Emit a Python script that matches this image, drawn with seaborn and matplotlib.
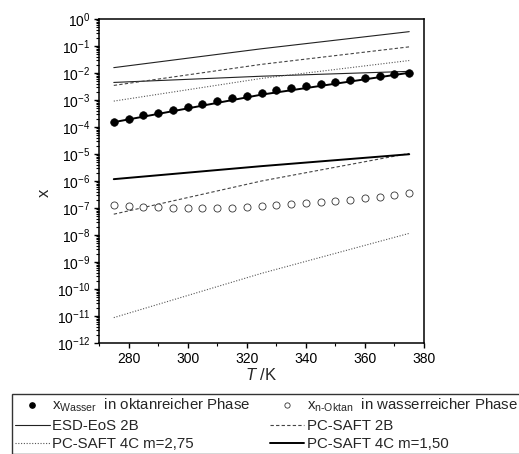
import matplotlib
matplotlib.use("Agg")
import matplotlib.pyplot as plt
from matplotlib.lines import Line2D
from matplotlib.ticker import LogLocator, NullFormatter, MultipleLocator
import seaborn as sns
import pandas as pd

# Experimental solubilities (mole fractions)
T_exp = [275, 280, 285, 290, 295, 300, 305, 310, 315, 320, 325,
         330, 335, 340, 345, 350, 355, 360, 365, 370, 375]
x_wasser = [1.48e-4, 2.00e-4, 2.69e-4, 3.39e-4, 4.37e-4, 5.62e-4, 7.24e-4,
            9.12e-4, 1.17e-3, 1.45e-3, 1.78e-3, 2.29e-3, 2.69e-3, 3.31e-3,
            3.89e-3, 4.79e-3, 5.62e-3, 6.76e-3, 7.94e-3, 8.91e-3, 1.02e-2]
x_oktan = [1.29e-7, 1.23e-7, 1.12e-7, 1.07e-7, 1.00e-7, 9.8e-8, 9.8e-8,
           1.00e-7, 1.02e-7, 1.10e-7, 1.15e-7, 1.29e-7, 1.41e-7, 1.55e-7,
           1.66e-7, 1.82e-7, 2.04e-7, 2.29e-7, 2.57e-7, 2.95e-7, 3.47e-7]

# Model results
T_mod = [275, 325, 375]
esd_2b_upper = [1.58e-2, 7.9e-2, 3.4e-1]
esd_2b_lower = [4.47e-3, 7.6e-3, 1.15e-2]
pc_2b_upper = [3.47e-3, 2.09e-2, 9.3e-2]
pc_2b_lower = [5.9e-8, 1.0e-6, 1.05e-5]
pc_4c275_upper = [9.1e-4, 6.3e-3, 2.9e-2]
pc_4c275_lower = [8.7e-12, 3.8e-10, 1.15e-8]
pc_4c150_upper = [1.51e-4, 1.58e-3, 1.02e-2]
pc_4c150_lower = [1.17e-6, 3.55e-6, 9.8e-6]

sns.set_style("ticks")
plt.rcParams["font.family"] = ["Liberation Sans", "DejaVu Sans"]
plt.rcParams["mathtext.fontset"] = "custom"
plt.rcParams["mathtext.rm"] = "Liberation Sans"
plt.rcParams["mathtext.it"] = "Liberation Sans:italic"
plt.rcParams["mathtext.default"] = "regular"
plt.rcParams["axes.unicode_minus"] = False

W, H = 519, 454
fig = plt.figure(figsize=(W / 100, H / 100), dpi=100)
ax = fig.add_axes([99 / W, 1 - 343 / H, (424 - 99) / W, (343 - 19) / H])

styles = {
    "esd": dict(color="#222222", lw=0.8, ls="-"),
    "pc2b": dict(color="#444444", lw=0.8, ls=(0, (3, 2))),
    "pc275": dict(color="#555555", lw=0.8, ls=(0, (1, 1.5))),
    "pc150": dict(color="black", lw=1.4, ls="-"),
}

def draw(y, key):
    st = styles[key]
    sns.lineplot(x=T_mod, y=y, ax=ax, color=st["color"], linewidth=st["lw"],
                 linestyle=st["ls"], legend=False)

draw(esd_2b_upper, "esd")
draw(esd_2b_lower, "esd")
draw(pc_2b_upper, "pc2b")
draw(pc_2b_lower, "pc2b")
draw(pc_4c275_upper, "pc275")
draw(pc_4c275_lower, "pc275")
draw(pc_4c150_upper, "pc150")
draw(pc_4c150_lower, "pc150")

df_w = pd.DataFrame({"T": T_exp, "x": x_wasser})
df_o = pd.DataFrame({"T": T_exp, "x": x_oktan})
sns.scatterplot(data=df_w, x="T", y="x", ax=ax, color="black", s=30,
                edgecolor="black", linewidth=0.5, zorder=5, legend=False)
sns.scatterplot(data=df_o, x="T", y="x", ax=ax, facecolor="white", s=26,
                edgecolor="#333333", linewidth=0.6, zorder=5, legend=False)

ax.set_yscale("log")
ax.set_ylim(1e-12, 1)
ax.set_xlim(270, 380)
ax.yaxis.set_major_locator(LogLocator(base=10, numticks=20))
ax.yaxis.set_minor_locator(LogLocator(base=10, subs=range(2, 10), numticks=200))
ax.yaxis.set_minor_formatter(NullFormatter())
ax.xaxis.set_major_locator(MultipleLocator(20))
ax.xaxis.set_minor_locator(MultipleLocator(10))

for s in ax.spines.values():
    s.set_linewidth(1.1)
    s.set_color("black")
ax.tick_params(which="major", direction="out", length=3.8, width=1.0,
               labelsize=10, pad=2.5, colors="black")
ax.tick_params(which="minor", direction="out", length=2.4, width=0.8, colors="black")

ax.set_xlabel(r"$\it{T}$ /K", fontsize=12, labelpad=1)
ax.set_ylabel("x", fontsize=12, rotation=90)
ax.yaxis.set_label_coords(-0.145, 0.465)

handles = [
    Line2D([], [], ls="none", marker="o", color="black", markersize=3.8),
    Line2D([], [], color=styles["esd"]["color"], lw=styles["esd"]["lw"], ls=styles["esd"]["ls"]),
    Line2D([], [], color=styles["pc275"]["color"], lw=styles["pc275"]["lw"], ls=styles["pc275"]["ls"]),
    Line2D([], [], ls="none", marker="o", markerfacecolor="white",
           markeredgecolor="#333333", markeredgewidth=0.6, markersize=3.8),
    Line2D([], [], color=styles["pc2b"]["color"], lw=styles["pc2b"]["lw"], ls=styles["pc2b"]["ls"]),
    Line2D([], [], color=styles["pc150"]["color"], lw=styles["pc150"]["lw"], ls="-"),
]
labels = [
    r"x$_{Wasser}$  in oktanreicher Phase",
    "ESD-EoS 2B",
    "PC-SAFT 4C m=2,75",
    r"x$_{n\text{-}Oktan}$  in wasserreicher Phase",
    "PC-SAFT 2B",
    "PC-SAFT 4C m=1,50",
]
leg = fig.legend(handles, labels, loc="upper left",
                 bbox_to_anchor=(12 / W, 1 - 394 / H), ncol=2,
                 fontsize=10.8, frameon=True, fancybox=False,
                 edgecolor="black", handlelength=2.3, handletextpad=0.2,
                 columnspacing=1.25, labelspacing=0.3, borderpad=0.2,
                 borderaxespad=0)
leg.get_frame().set_linewidth(1.0)

fig.savefig("out.png", dpi=100)
